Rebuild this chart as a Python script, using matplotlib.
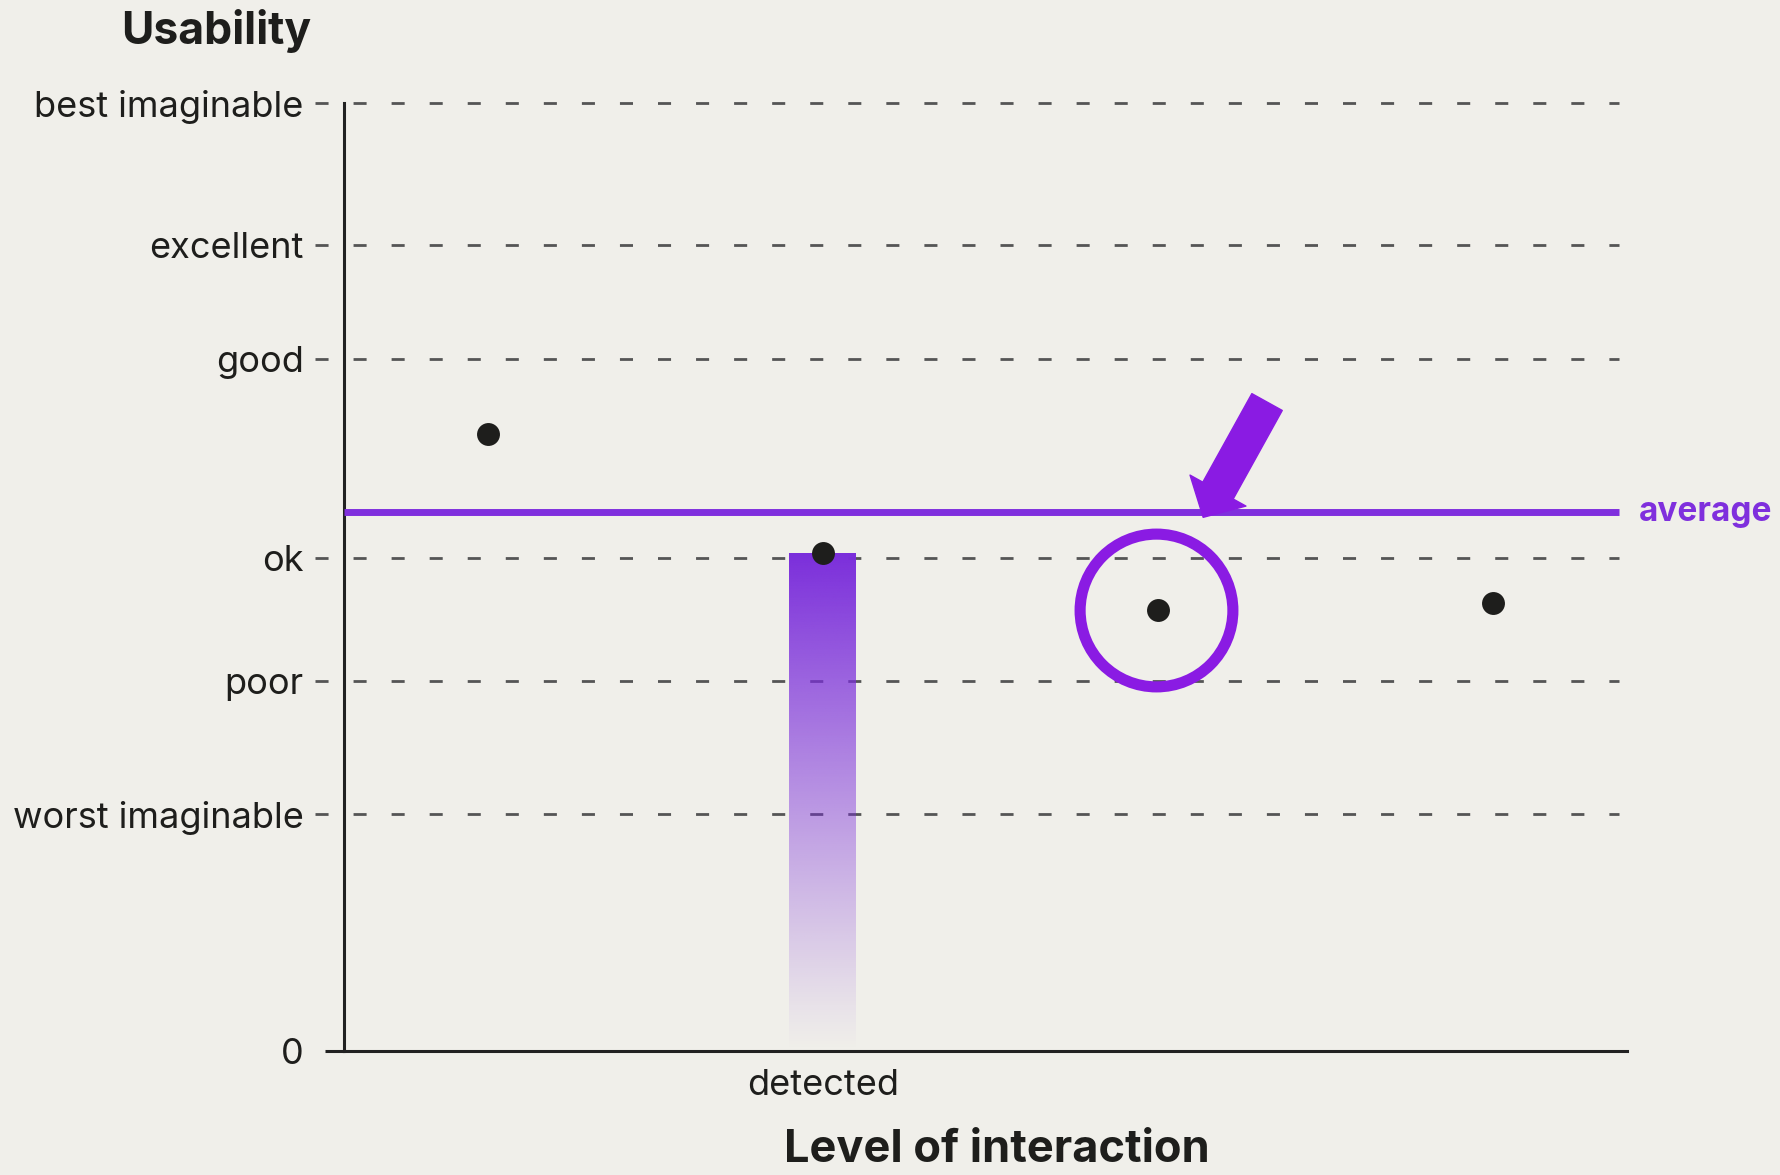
import numpy as np
import matplotlib.pyplot as plt

plt.rcParams['font.family'] = ['Inter', 'DejaVu Sans']

# x categories (only one of them carries a label in the original)
categories = ["", "detected", "", ""]
scores = [65.1, 52.5, 46.5, 47.3]
average_score = 56.9
bar_index = 1          # category drawn with the gradient bar
highlight_index = 2    # circled point

# SUS adjective scale on the y axis
level_names = ["0", "worst imaginable", "poor", "ok", "good", "excellent", "best imaginable"]
level_values = [0, 25, 39, 52, 73, 85, 100]

bg = '#f0efea'
ink = '#1e1e1c'
purple = '#7f2fdd'
purple_hi = '#8a1be3'

fig = plt.figure(figsize=(17.81, 11.75), dpi=100, facecolor=bg)
ax = fig.add_axes([0.1931, 0.1055, 0.7204, 0.8068], facecolor=bg)
ax.set_xlim(-0.43, 3.40)
ax.set_ylim(0, 100)

# dashed reference lines, they start a bit left of the axis
for v in level_values[1:]:
    ax.plot([-0.517, 3.377], [v, v], color='#555555', lw=2, dashes=(4.7, 9),
            dash_capstyle='butt', clip_on=False, zorder=1)

# gradient bar
x = np.arange(len(categories))
rgb = np.array(plt.matplotlib.colors.to_rgb('#7b2edb'))
grad = np.zeros((256, 1, 4))
grad[:, 0, :3] = rgb
grad[:, 0, 3] = np.linspace(1.0, 0.0, 256) ** 1.1
bw = 0.1
ax.imshow(grad, extent=[x[bar_index] - bw, x[bar_index] + bw, 0, scores[bar_index]],
          aspect='auto', origin='upper', zorder=2, interpolation='bilinear')

# average line
ax.plot([-0.43, 3.377], [average_score, average_score], color=purple, lw=5,
        solid_capstyle='butt', clip_on=False, zorder=3)
ax.text(3.436, average_score, "average", color=purple, fontsize=24, weight='bold',
        ha='left', va='center')

# points
ax.scatter(x, scores, s=16.5 ** 2, color=ink, zorder=5, linewidths=0)

# circle + arrow highlight
ax.plot(x[highlight_index] - 0.007, scores[highlight_index], marker='o', ms=110,
        mfc='none', mec=purple_hi, mew=8, zorder=4)
ax.annotate("", xy=(x[highlight_index] + 0.135, average_score - 0.6),
            xytext=(46, 83), textcoords='offset points',
            arrowprops=dict(arrowstyle='simple,head_length=1.1,head_width=2.3,tail_width=1.25',
                            color=purple_hi, mutation_scale=20, shrinkA=0, shrinkB=0),
            zorder=6)

# axes styling
for s in ['top', 'right']:
    ax.spines[s].set_visible(False)
for s in ['left', 'bottom']:
    ax.spines[s].set_linewidth(2.2)
    ax.spines[s].set_color('#222222')

ax.set_yticks(level_values)
ax.set_yticklabels(level_names, fontsize=26, color=ink)
ax.tick_params(axis='y', length=14, width=2.2, color='#222222', pad=15)
for t in ax.yaxis.get_major_ticks()[1:]:
    t.tick1line.set_visible(False)

ax.set_xticks(x)
ax.set_xticklabels(categories, fontsize=26, color=ink)
ax.tick_params(axis='x', length=0, pad=13)

fig.text(216 / 1781, 1 - 31 / 1175, "Usability", fontsize=32, weight='bold',
         color=ink, ha='center', va='center')
fig.text(997 / 1781, 1 - 1150 / 1175, "Level of interaction", fontsize=32.5,
         weight='bold', color=ink, ha='center', va='center')

fig.savefig('out.png', dpi=100, facecolor=bg)
